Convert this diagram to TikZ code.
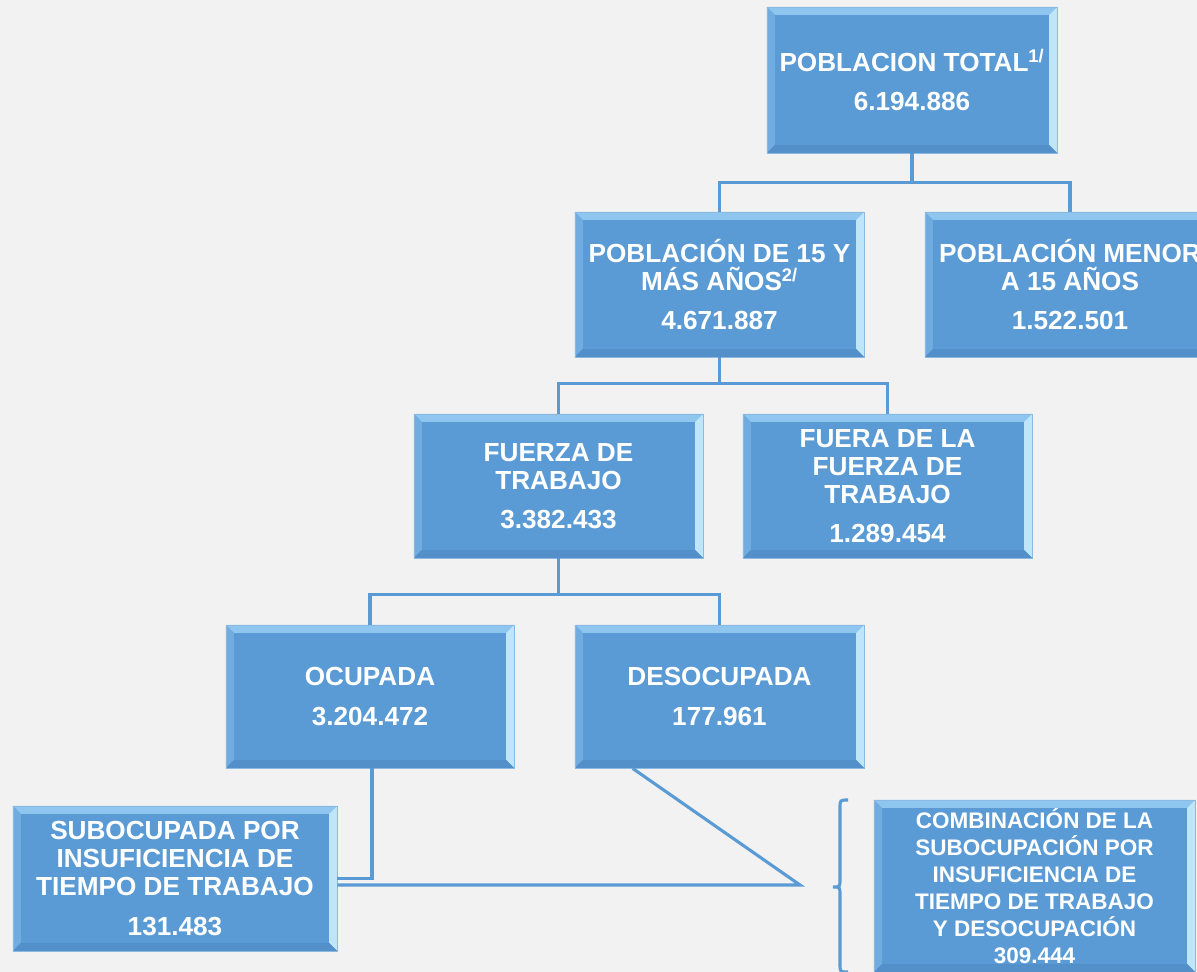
\documentclass[tikz,border=0pt]{standalone}
\usepackage{fontspec}
\newfontfamily\arialfont{Liberation Sans}
\usetikzlibrary{calc}
\definecolor{fondo}{HTML}{F2F2F2}
\definecolor{azul}{HTML}{5B9BD5}
\definecolor{linea}{HTML}{5B9BD5}
\definecolor{biselsup}{HTML}{8FC6EF}
\definecolor{biselizq}{HTML}{70ACE0}
\definecolor{biselder}{HTML}{BFE5F9}
\definecolor{biselinf}{HTML}{5390CA}
\tikzset{
	caja/.style 2 args={minimum width=#1*0.71132pt, minimum height=#2*0.71132pt},
	cajon/.style={rectangle, fill=azul, draw=azul!70, line width=0.5pt, text=white, align=center, inner sep=0pt,
		font=\arialfont\bfseries\fontsize{18.6}{20}\selectfont,
		path picture={
			\coordinate (bnw) at (path picture bounding box.north west);
			\coordinate (bne) at (path picture bounding box.north east);
			\coordinate (bsw) at (path picture bounding box.south west);
			\coordinate (bse) at (path picture bounding box.south east);
			\fill[biselsup] (bnw) -- (bne) -- ($(bne)+(-8,8)$) -- ($(bnw)+(8,8)$) -- cycle;
			\fill[biselizq] (bnw) -- ($(bnw)+(8,8)$) -- ($(bsw)+(8,-8)$) -- (bsw) -- cycle;
			\fill[biselder] (bne) -- (bse) -- ($(bse)+(-8,-8)$) -- ($(bne)+(-8,8)$) -- cycle;
			\fill[biselinf] (bsw) -- (bse) -- ($(bse)+(-8,-8)$) -- ($(bsw)+(8,-8)$) -- cycle;
		}},
	conector/.style={draw=linea, line width=2.2pt},
}
\begin{document}
\begin{tikzpicture}[x=0.025cm, y=-0.025cm]
	\fill[fondo] (0,0) rectangle (1197,972);
	\useasboundingbox (0,0) rectangle (1197,972);
	% cajas
	\node[cajon, caja={290}{146}] (total) at (912,80) {POBLACION TOTAL\textsuperscript{1/}\\[8pt]6.194.886};
	\node[cajon, caja={289}{145}] (mayor) at (719.5,284.5) {POBLACIÓN DE 15 Y\\MÁS AÑOS\textsuperscript{2/}\\[8pt]4.671.887};
	\node[cajon, caja={290}{145}] (menor) at (1070,284.5) {POBLACIÓN MENOR\\A 15 AÑOS\\[8pt]1.522.501};
	\node[cajon, caja={289}{144}] (fuerza) at (558.5,486) {FUERZA DE\\TRABAJO\\[8pt]3.382.433};
	\node[cajon, caja={289}{144}] (fuera) at (887.5,486) {FUERA DE LA\\FUERZA DE\\TRABAJO\\[8pt]1.289.454};
	\node[cajon, caja={288}{143}] (ocupada) at (370,696.5) {OCUPADA\\[8pt]3.204.472};
	\node[cajon, caja={289}{143}] (desocupada) at (719.5,696.5) {DESOCUPADA\\[8pt]177.961};
	\node[cajon, caja={324}{145}] (sub) at (175,878.5) {SUBOCUPADA POR\\INSUFICIENCIA DE\\TIEMPO DE TRABAJO\\[8pt]131.483};
	\node[cajon, caja={321}{172}, font=\arialfont\bfseries\fontsize{16}{19.2}\selectfont] (comb) at (1034.5,886)
		{COMBINACIÓN DE LA\\SUBOCUPACIÓN POR\\INSUFICIENCIA DE\\TIEMPO DE TRABAJO\\Y DESOCUPACIÓN\\309.444};
	% conectores
	\draw[conector] (total.south) -- ++(0,29) coordinate (r1) -| (mayor.north);
	\draw[conector] (r1) -| (menor.north);
	\draw[conector] (mayor.south) -- ++(0,26) coordinate (r2) -| (fuerza.north);
	\draw[conector] (r2) -| (fuera.north);
	\draw[conector] (fuerza.south) -- ++(0,36) coordinate (r3) -| (ocupada.north);
	\draw[conector] (r3) -| (desocupada.north);
	\draw[conector] ([xshift=1.4pt]ocupada.south) |- (sub.east);
	\coordinate (union) at (800,885);
	\draw[conector] (sub.east |- union) -- (union) -- ($(desocupada.south west)+(58,0)$);
	% llave
	\draw[conector] (848,800) .. controls (840,800) .. (840,808) -- (840,879)
		.. controls (840,887) .. (833,887) .. controls (840,887) .. (840,895) -- (840,964)
		.. controls (840,972) .. (848,972);
\end{tikzpicture}
\end{document}
